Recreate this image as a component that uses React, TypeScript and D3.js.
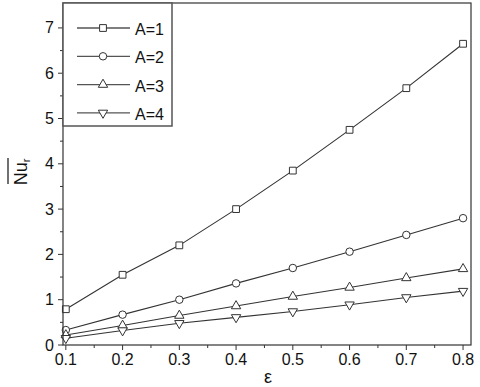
import React from "react";
import * as d3 from "d3";

// data
const eps = [0.1, 0.2, 0.3, 0.4, 0.5, 0.6, 0.7, 0.8];
const nuA1 = [0.79, 1.55, 2.2, 3.0, 3.85, 4.75, 5.67, 6.65];
const nuA2 = [0.33, 0.67, 1.0, 1.36, 1.7, 2.06, 2.43, 2.8];
const nuA3 = [0.22, 0.43, 0.65, 0.86, 1.07, 1.27, 1.48, 1.68];
const nuA4 = [0.15, 0.32, 0.48, 0.61, 0.74, 0.89, 1.05, 1.19];
const seriesNames = ["A=1", "A=2", "A=3", "A=4"];
const xTicks = [0.1, 0.2, 0.3, 0.4, 0.5, 0.6, 0.7, 0.8];
const yTicks = [0, 1, 2, 3, 4, 5, 6, 7];

const W = 480;
const H = 387;
const left = 63;
const right = 471;
const top = 3;
const bottom = 345;

const markerPath = (i: number) => {
  if (i === 0) return d3.symbol(d3.symbolSquare, 46)()!;
  if (i === 1) return d3.symbol(d3.symbolCircle, 44)()!;
  return d3.symbol(d3.symbolTriangle, 38)()!;
};

const Marker = ({ i, x, y }: { i: number; x: number; y: number }) => (
  <path
    d={markerPath(i)}
    transform={`translate(${x},${y})${i === 3 ? " rotate(180)" : ""}`}
    fill="#fff"
    stroke="#333"
    strokeWidth={1}
  />
);

export default function App() {
  const x = d3.scaleLinear().domain([0.095, 0.814]).range([left, right]);
  const y = d3.scaleLinear().domain([0, 7.55]).range([bottom, top]);
  const line = d3
    .line<number>()
    .x((_, i) => x(eps[i]))
    .y((d) => y(d));
  const series = [nuA1, nuA2, nuA3, nuA4];
  const xMinor = d3.range(0.15, 0.81, 0.1);
  const yMinor = d3.range(0.5, 7.5, 1);
  const font = "Arial, 'Liberation Sans', sans-serif";

  return (
    <svg
      width={W}
      height={H}
      style={{ position: "absolute", left: 0, top: 0, background: "#fff" }}
      fontFamily={font}
    >
      {/* series */}
      {series.map((s, si) => (
        <g key={si}>
          <path d={line(s)!} fill="none" stroke="#333" strokeWidth={1.1} />
          {s.map((v, j) => (
            <Marker key={j} i={si} x={x(eps[j])} y={y(v)} />
          ))}
        </g>
      ))}

      {/* frame */}
      <rect
        x={left}
        y={top}
        width={right - left}
        height={bottom - top}
        fill="none"
        stroke="#333"
        strokeWidth={1.2}
      />

      {/* x ticks */}
      {xTicks.map((t) => (
        <g key={t}>
          <line x1={x(t)} x2={x(t)} y1={bottom} y2={bottom + 5} stroke="#333" />
          <text x={x(t)} y={365} textAnchor="middle" fontSize={16} fill="#111">
            {t.toFixed(1)}
          </text>
        </g>
      ))}
      {xMinor.map((t) => (
        <line key={t} x1={x(t)} x2={x(t)} y1={bottom} y2={bottom + 3} stroke="#333" />
      ))}

      {/* y ticks */}
      {yTicks.map((t) => (
        <g key={t}>
          <line x1={left - 5} x2={left} y1={y(t)} y2={y(t)} stroke="#333" />
          <text x={54} y={y(t) + 5.5} textAnchor="end" fontSize={16} fill="#111">
            {t}
          </text>
        </g>
      ))}
      {yMinor.map((t) => (
        <line key={t} x1={left - 3} x2={left} y1={y(t)} y2={y(t)} stroke="#333" />
      ))}

      {/* axis titles */}
      <text x={268} y={383} textAnchor="middle" fontSize={18} fill="#111">
        ε
      </text>
      <g transform="translate(27,172) rotate(-90)">
        <text x={0} y={0} textAnchor="middle" fontSize={18} fill="#111">
          Nu<tspan fontSize={11} dy={3}>r</tspan>
        </text>
        <line x1={-12} x2={14} y1={-19} y2={-19} stroke="#111" strokeWidth={1.2} />
      </g>

      {/* legend */}
      <rect
        x={left}
        y={top}
        width={109}
        height={123}
        fill="#fff"
        stroke="#555"
        strokeWidth={1.5}
      />
      {seriesNames.map((n, i) => {
        const ly = 28 + i * 28.3;
        return (
          <g key={n}>
            <line x1={77} x2={130} y1={ly} y2={ly} stroke="#555" strokeWidth={1.3} />
            <Marker i={i} x={103} y={ly} />
            <text x={135} y={ly + 7} fontSize={16} fill="#111">
              {n}
            </text>
          </g>
        );
      })}
    </svg>
  );
}
